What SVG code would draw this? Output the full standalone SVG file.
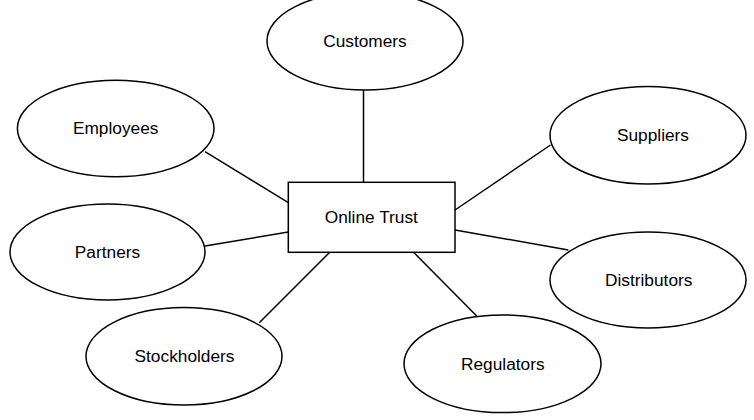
<svg xmlns="http://www.w3.org/2000/svg" width="754" height="420" viewBox="0 0 754 420">
<style>
.n{fill:#fff;stroke:#000;stroke-width:1.5}
.c{stroke:#000;stroke-width:1.5;fill:none}
text{font-family:"Liberation Sans",Arial,sans-serif;font-size:17.3px;fill:#000;text-anchor:middle}
</style>
<rect width="754" height="420" fill="#fff"/>
<g id="connectors">
<line class="c" x1="363.5" y1="90" x2="363.5" y2="182"/>
<line class="c" x1="205" y1="151.7" x2="288.3" y2="202.7"/>
<line class="c" x1="205" y1="246" x2="288.3" y2="232"/>
<line class="c" x1="455" y1="210" x2="550.5" y2="145"/>
<line class="c" x1="455" y1="230" x2="568.3" y2="250"/>
<line class="c" x1="329.3" y1="252.7" x2="259.3" y2="322.7"/>
<line class="c" x1="414" y1="252.7" x2="476.7" y2="316"/>
</g>
<g id="customers"><ellipse class="n" cx="365" cy="41" rx="98" ry="49"/><text x="365" y="47">Customers</text></g>
<g id="employees"><ellipse class="n" cx="115.7" cy="128.5" rx="98.3" ry="48.3"/><text x="115.7" y="134">Employees</text></g>
<g id="partners"><ellipse class="n" cx="107.5" cy="252" rx="97.5" ry="48"/><text x="107.5" y="258">Partners</text></g>
<g id="suppliers"><ellipse class="n" cx="648" cy="135.3" rx="98" ry="48.7"/><text x="653" y="141">Suppliers</text></g>
<g id="distributors"><ellipse class="n" cx="648" cy="280" rx="98" ry="48"/><text x="648.7" y="285.5">Distributors</text></g>
<g id="stockholders"><ellipse class="n" cx="184" cy="356.3" rx="98" ry="48.7"/><text x="184.5" y="362">Stockholders</text></g>
<g id="regulators"><ellipse class="n" cx="502.5" cy="363.8" rx="98.5" ry="48.8"/><text x="502.8" y="369.5">Regulators</text></g>
<g id="online-trust"><rect class="n" x="288.3" y="182.3" width="166.7" height="70"/><text x="371.3" y="223">Online Trust</text></g>
</svg>
